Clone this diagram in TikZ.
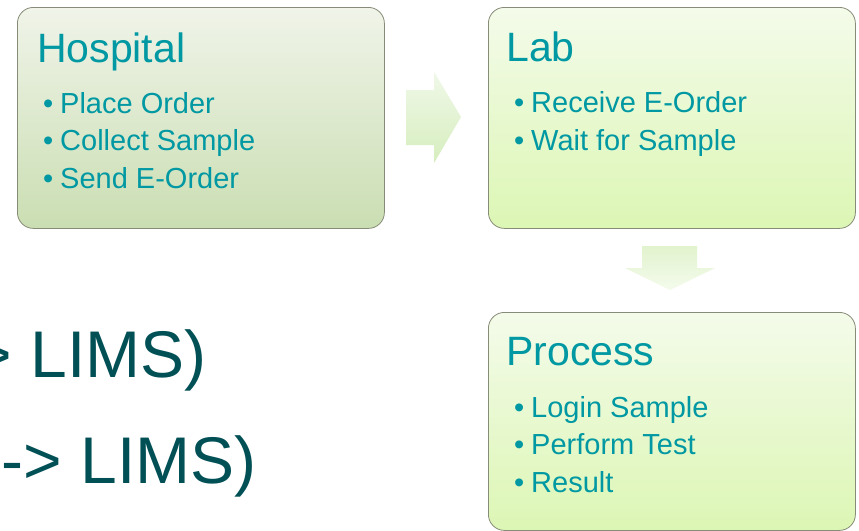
\documentclass[tikz,border=0pt]{standalone}
\usepackage{fontspec}
\setmainfont{Liberation Sans}
\definecolor{boxtext}{RGB}{0,152,162}
\definecolor{bigtext}{RGB}{0,80,86}
\definecolor{boxline}{RGB}{135,140,120}
\definecolor{hosptop}{RGB}{240,244,233}
\definecolor{hospbot}{RGB}{202,222,178}
\definecolor{labtop}{RGB}{244,251,234}
\definecolor{labbot}{RGB}{220,246,180}
\begin{document}
\begin{tikzpicture}[x=1pt,y=-1pt,
  boxsty/.style={draw=boxline, line width=0.8pt, rounded corners=16pt,
    anchor=north west, inner sep=0pt, minimum width=367pt},
  ttl/.style={text=boxtext, font=\fontsize{41}{41}\selectfont, anchor=base west, inner sep=0pt},
  itm/.style={text=boxtext, font=\fontsize{29}{29}\selectfont, anchor=base west, inner sep=0pt},
  big/.style={text=bigtext, font=\fontsize{66}{66}\selectfont, anchor=base east, inner sep=0pt},
  blockarrow/.style={draw=none}
]
\useasboundingbox (0,0) rectangle (859,530);
\clip (0,0) rectangle (859,530);
\fill[white] (0,0) rectangle (859,530);

% boxes
\node[boxsty, minimum height=221pt, top color=hosptop, bottom color=hospbot] (hosp) at (17,7) {};
\node[boxsty, minimum height=221pt, top color=labtop, bottom color=labbot] (lab) at (488,7) {};
\node[boxsty, minimum height=218pt, top color=labtop, bottom color=labbot] (proc) at (488,312) {};

% block arrows
\path[blockarrow, top color={rgb,255:red,240;green,248;blue,232}, bottom color={rgb,255:red,214;green,238;blue,190}]
  (406,90) -- (434,90) -- (434,72) -- (461,117) -- (434,163) -- (434,145) -- (406,145) -- cycle;
\path[blockarrow, top color={rgb,255:red,226;green,243;blue,206}, bottom color={rgb,255:red,244;green,251;blue,236}]
  (642,246) -- (697,246) -- (697,268) -- (715,268) -- (670,290) -- (625,268) -- (642,268) -- cycle;

% Hospital
\node[ttl] (hospT) at (37,62) {Hospital};
\node[itm] (h1) at (43,113) {\makebox[17pt][l]{•}Place Order};
\node[itm] (h2) at (43,150) {\makebox[17pt][l]{•}Collect Sample};
\node[itm] (h3) at (43,188) {\makebox[17pt][l]{•}Send E-Order};

% Lab
\node[ttl] (labT) at (506,61) {Lab};
\node[itm] (l1) at (514,112) {\makebox[17pt][l]{•}Receive E-Order};
\node[itm] (l2) at (514,150) {\makebox[17pt][l]{•}Wait for Sample};

% Process
\node[ttl] (procT) at (506,365) {Process};
\node[itm] (p1) at (514,417) {\makebox[17pt][l]{•}Login Sample};
\node[itm] (p2) at (514,454) {\makebox[17pt][l]{•}Perform Test};
\node[itm] (p3) at (514,492) {\makebox[17pt][l]{•}Result};

% large partial text (cut off at the left edge, as in the reference)
\node[big] (lims1) at (207,377) {-> LIMS)};
\node[big] (lims2) at (257,483) {-> LIMS)};
\end{tikzpicture}
\end{document}
